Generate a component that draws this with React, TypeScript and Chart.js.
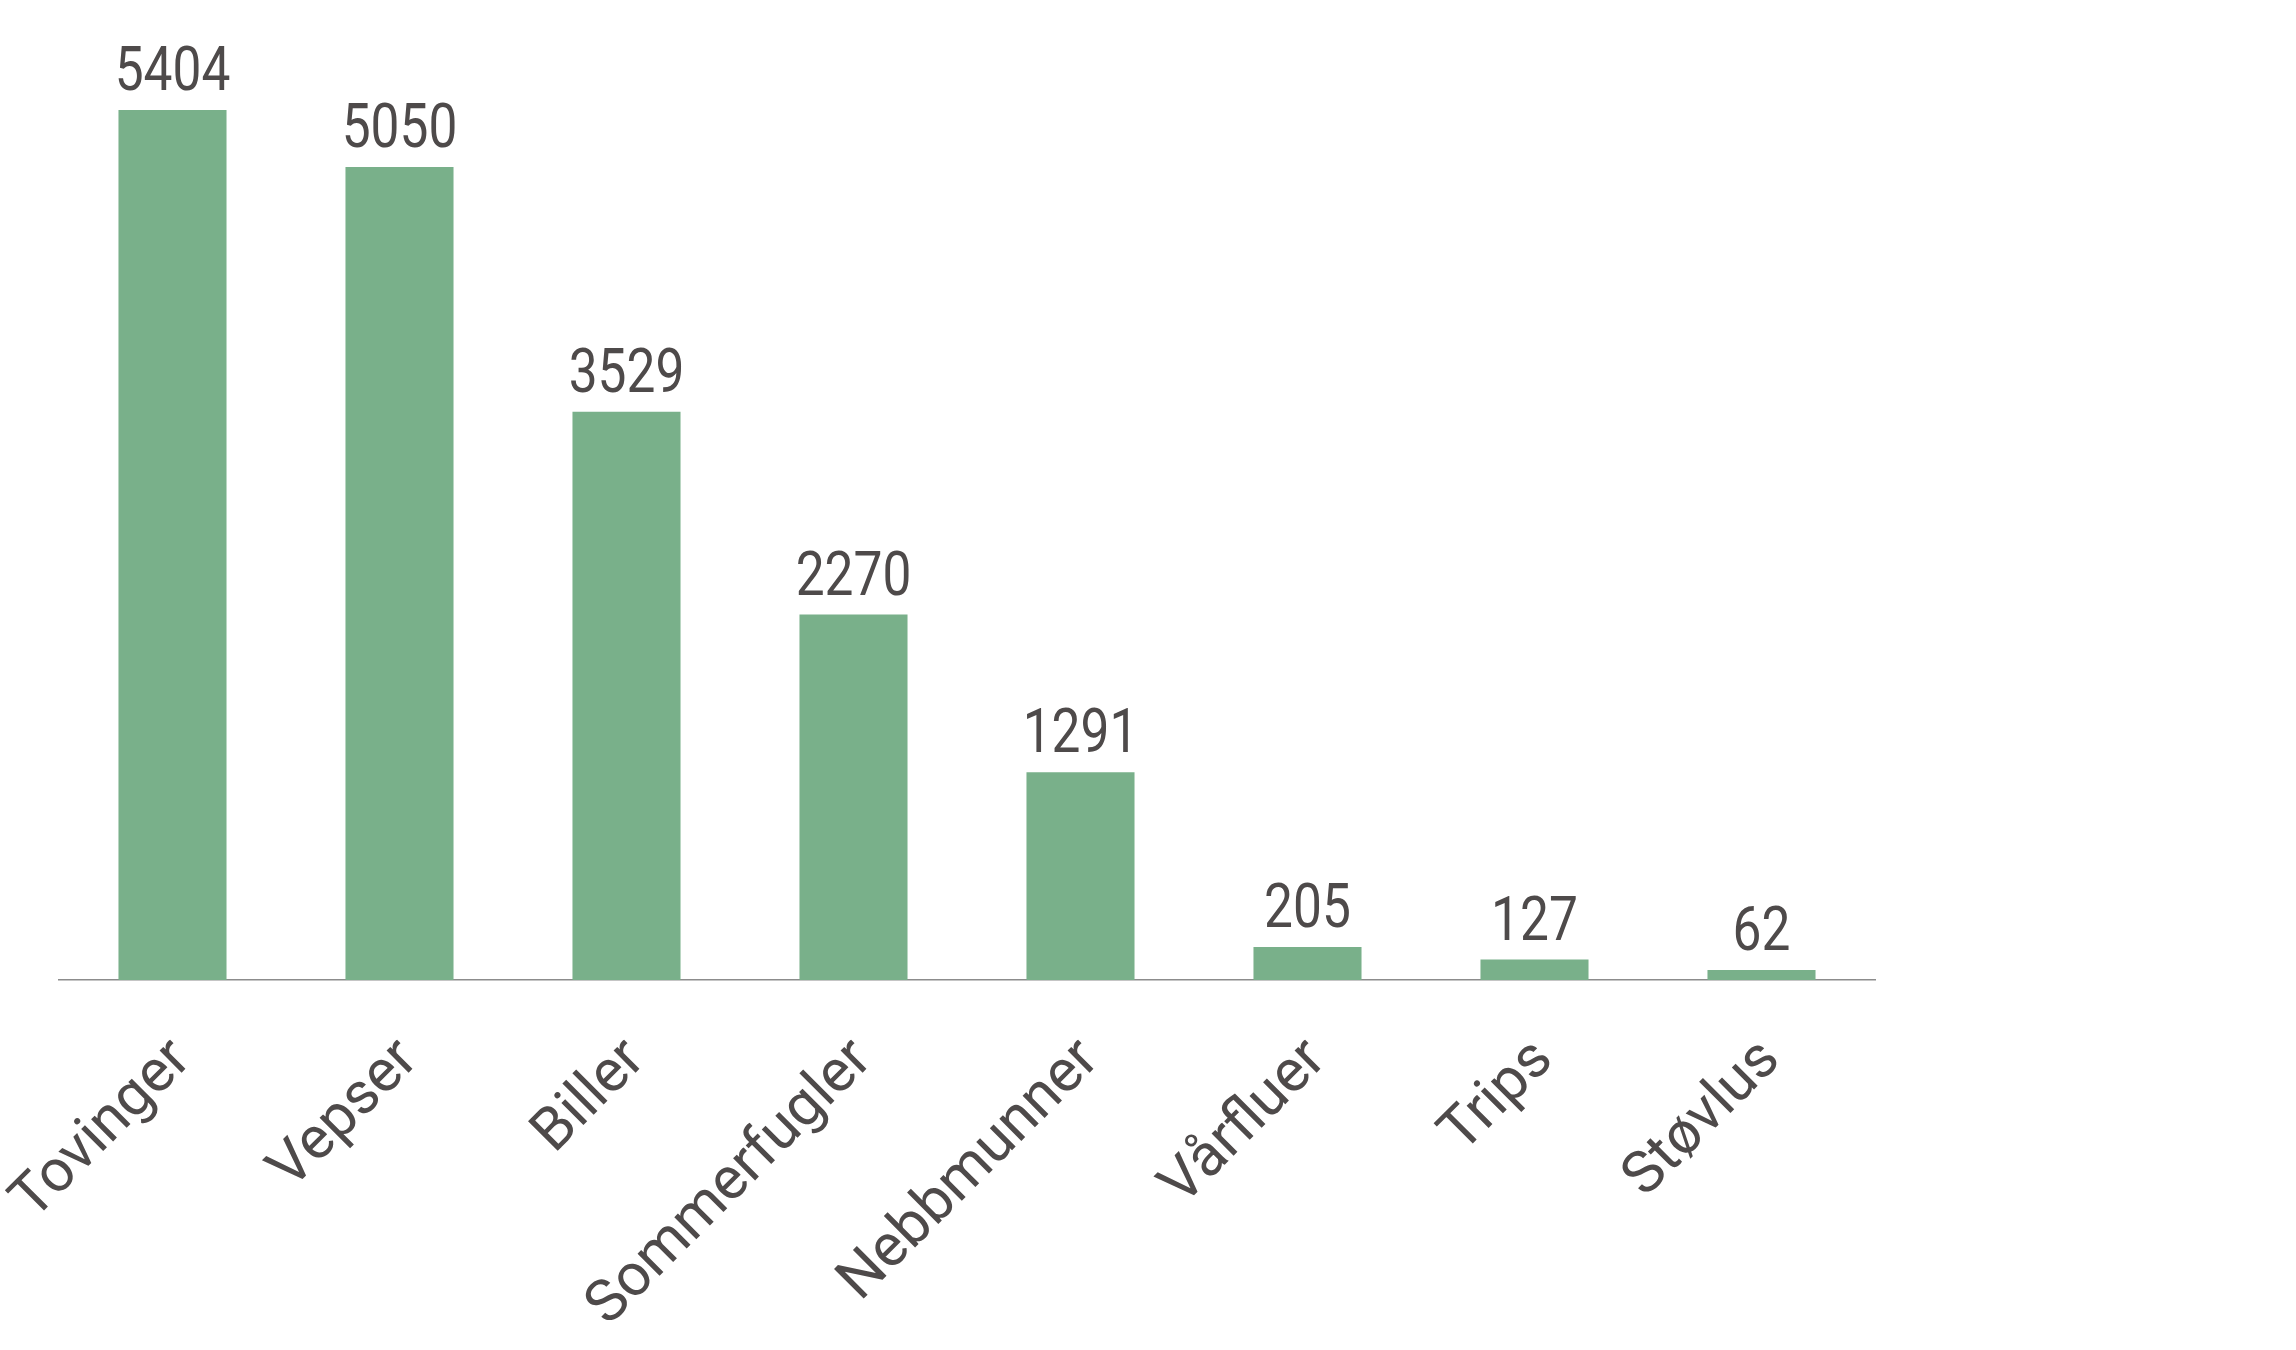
import React, { useEffect, useRef } from "react";
import { Chart, registerables } from "chart.js";

Chart.register(...registerables);

const categories = ["Tovinger", "Vepser", "Biller", "Sommerfugler", "Nebbmunner", "Vårfluer", "Trips", "Støvlus"];
const counts = [5404, 5050, 3529, 2270, 1291, 205, 127, 62];
const yMin = 0;
const yMax = 6000;

const BAR_COLOR = "#79b08a";
const TEXT_COLOR = "#4e4a4a";

const valueLabels = {
  id: "valueLabels",
  afterDatasetsDraw(chart: any) {
    const ctx = chart.ctx;
    const meta = chart.getDatasetMeta(0);
    meta.data.forEach((bar: any, i: number) => {
      ctx.save();
      ctx.translate(bar.x, bar.y - 20);
      ctx.scale(0.83, 1);
      ctx.font = "62px Roboto";
      ctx.fillStyle = TEXT_COLOR;
      ctx.textAlign = "center";
      ctx.textBaseline = "alphabetic";
      ctx.fillText(String(counts[i]), 0, 0);
      ctx.restore();
    });
  },
};

export default function App() {
  const ref = useRef<HTMLCanvasElement | null>(null);
  useEffect(() => {
    if (!ref.current) return;
    const chart = new Chart(ref.current, {
      type: "bar",
      data: {
        labels: categories,
        datasets: [
          {
            data: counts,
            backgroundColor: BAR_COLOR,
            barPercentage: 0.476,
            categoryPercentage: 1,
          },
        ],
      },
      options: {
        animation: false,
        responsive: false,
        layout: { padding: { left: 59, right: 421, top: 14, bottom: 0 } },
        plugins: { legend: { display: false }, tooltip: { enabled: false } },
        scales: {
          x: {
            grid: { display: false },
            border: { display: true, color: "#8c8c8c", width: 1.5 },
            ticks: {
              autoSkip: false,
              minRotation: 45,
              maxRotation: 45,
              padding: 38,
              labelOffset: 10,
              color: TEXT_COLOR,
              font: { family: "Roboto", size: 59 },
            },
            afterFit: (scale: any) => {
              scale.height = 370;
              scale.paddingLeft = 0;
              scale.paddingRight = 0;
            },
          },
          y: {
            display: false,
            min: yMin,
            max: yMax,
          },
        },
      },
      plugins: [valueLabels],
    });
    return () => chart.destroy();
  }, []);
  return (
    <div style={{ position: "absolute", left: 0, top: 0, width: 2296, height: 1350, background: "#fff" }}>
      <canvas ref={ref} width={2296} height={1350} />
    </div>
  );
}
